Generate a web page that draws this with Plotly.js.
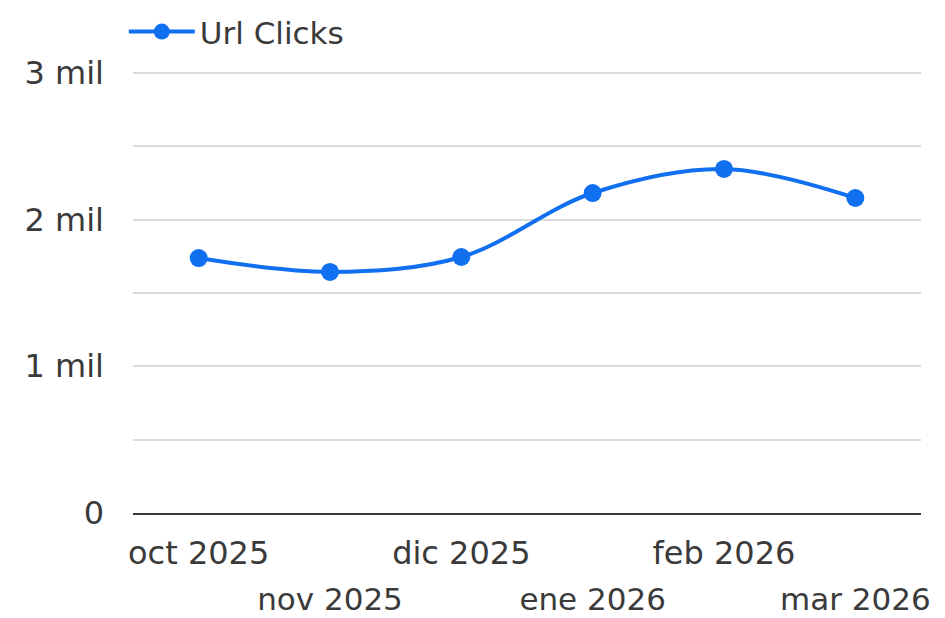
<!DOCTYPE html>
<html>
<head>
<meta charset="utf-8">
<script src="https://cdn.plot.ly/plotly-3.0.1.min.js"></script>
<style>html,body{margin:0;padding:0;background:#fff;}#chart{width:945px;height:618px;}</style>
</head>
<body>
<div id="chart"></div>
<script>
const categories = ['oct 2025', 'nov 2025', 'dic 2025', 'ene 2026', 'feb 2026', 'mar 2026'];
const urlClicks = [1738, 1643, 1745, 2181, 2345, 2147];
const yTickVals = [0, 500, 1000, 1500, 2000, 2500, 3000];
const yTickText = ['0', '', '1 mil', '', '2 mil', '', '3 mil'];
const seriesName = 'Url Clicks';

const idx = categories.map((c, i) => i);
const evenIdx = idx.filter(i => i % 2 === 0);
const oddIdx = idx.filter(i => i % 2 === 1);
const fontFam = 'DejaVu Sans, sans-serif';
const txtColor = '#3a3a3a';
const blue = '#1170f0';

const trace = {
  x: idx,
  y: urlClicks,
  type: 'scatter',
  mode: 'lines+markers',
  name: seriesName,
  line: {color: blue, width: 4, shape: 'spline', smoothing: 1},
  marker: {color: blue, size: 18},
  hoverinfo: 'skip'
};
const dummy = {
  x: idx, y: urlClicks, xaxis: 'x2', type: 'scatter', mode: 'lines',
  line: {color: 'rgba(0,0,0,0)'}, showlegend: false, hoverinfo: 'skip'
};

const layout = {
  width: 945, height: 618,
  margin: {l: 133, r: 24, t: 67, b: 105, autoexpand: false},
  paper_bgcolor: '#ffffff', plot_bgcolor: '#ffffff',
  font: {family: fontFam, color: txtColor, size: 32},
  showlegend: true,
  legend: {xref: 'container', yref: 'container', x: 0.131, xanchor: 'left', y: 0.992, yanchor: 'top',
           orientation: 'h', itemwidth: 66,
           font: {size: 31, color: txtColor, family: fontFam}, bgcolor: 'rgba(0,0,0,0)'},
  xaxis: {
    range: [-0.5, categories.length - 0.5],
    tickvals: evenIdx, ticktext: evenIdx.map(i => categories[i]),
    showgrid: false, zeroline: false, showline: true, linecolor: '#3a3a3a', linewidth: 2,
    ticks: '', ticklabelstandoff: 11, tickfont: {size: 32, color: txtColor}
  },
  xaxis2: {
    overlaying: 'x', side: 'bottom', anchor: 'y',
    range: [-0.5, categories.length - 0.5],
    tickvals: oddIdx, ticktext: oddIdx.map(i => categories[i]),
    showgrid: false, zeroline: false, showline: false,
    ticks: '', ticklabelstandoff: 65, tickfont: {size: 31, color: txtColor}
  },
  yaxis: {
    range: [0, 3040],
    tickvals: yTickVals, ticktext: yTickText,
    showgrid: true, gridcolor: '#dadada', gridwidth: 2,
    zeroline: false, showline: false, ticks: '', ticklabelstandoff: 28,
    tickfont: {size: 32, color: txtColor}
  }
};

Plotly.newPlot('chart', [trace, dummy], layout, {displayModeBar: false, staticPlot: true});
</script>
</body>
</html>
